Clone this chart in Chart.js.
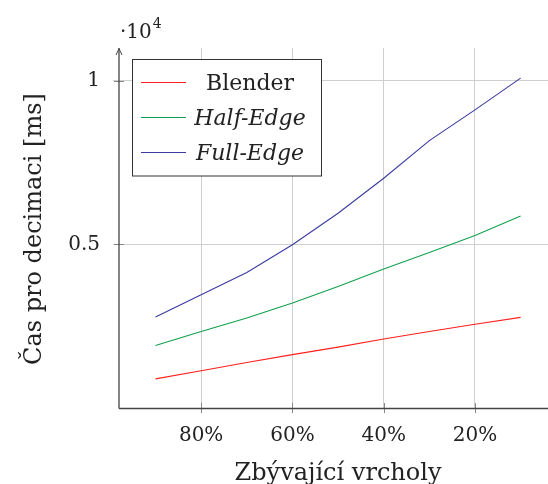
<!DOCTYPE html>
<html>
<head>
<meta charset="utf-8">
<script src="https://cdn.jsdelivr.net/npm/chart.js@4"></script>
<style>
html,body{margin:0;padding:0;background:#fff;}
canvas{display:block;}
</style>
</head>
<body>
<canvas id="c" width="548" height="484"></canvas>
<script>
// remaining vertices [%]
const categories = [90, 80, 70, 60, 50, 40, 30, 20, 10];
// time per decimation [ms]
const blender  = [890, 1140, 1390, 1630, 1860, 2110, 2340, 2560, 2770];
const halfEdge = [1910, 2340, 2750, 3210, 3710, 4250, 4750, 5270, 5870];
const fullEdge = [2780, 3460, 4140, 4990, 5950, 7020, 8170, 9110, 10080];
const seriesNames = ['Blender', 'Half-Edge', 'Full-Edge'];
const xTicks = [80, 60, 40, 20];
const yTicks = [5000, 10000];
const xTitle = 'Zbývající vrcholy';
const yTitle = 'Čas pro decimaci [ms]';

const FONT = '"DejaVu Serif", serif';
const colors = ['#ff1f1f', '#12a04e', '#3a3aa0'];
const italic = [false, true, true];

function pts(arr){ return categories.map((x,i)=>({x:x, y:arr[i]})); }

const overlay = {
  id: 'overlay',
  afterDraw(chart){
    const ctx = chart.ctx;
    const a = chart.chartArea;
    const xs = chart.scales.x, ys = chart.scales.y;
    ctx.save();
    // tick marks
    ctx.strokeStyle = '#888';
    ctx.lineWidth = 1;
    ctx.beginPath();
    xTicks.forEach(v=>{ const px = Math.round(xs.getPixelForValue(v))+0.5; ctx.moveTo(px, a.bottom-5); ctx.lineTo(px, a.bottom+5); });
    yTicks.forEach(v=>{ const py = Math.round(ys.getPixelForValue(v))+0.5; ctx.moveTo(a.left-5, py); ctx.lineTo(a.left+5, py); });
    ctx.stroke();
    // axes
    ctx.strokeStyle = '#444';
    ctx.lineWidth = 1.3;
    ctx.beginPath();
    ctx.moveTo(a.left, a.bottom+0.5);
    ctx.lineTo(a.left, a.top+1);
    ctx.moveTo(a.left, a.bottom+0.5);
    ctx.lineTo(548, a.bottom+0.5);
    ctx.stroke();
    // arrow head
    ctx.lineWidth = 1;
    ctx.beginPath();
    ctx.moveTo(a.left-3, a.top+7);
    ctx.quadraticCurveTo(a.left-0.5, a.top+2, a.left, a.top);
    ctx.quadraticCurveTo(a.left+0.5, a.top+2, a.left+3, a.top+7);
    ctx.stroke();

    // legend
    const bx = 132.5, by = 59.5, bw = 189, bh = 116.5;
    ctx.fillStyle = '#fff';
    ctx.fillRect(bx, by, bw, bh);
    ctx.strokeStyle = '#333';
    ctx.lineWidth = 1;
    ctx.strokeRect(bx, by, bw, bh);
    chart.data.datasets.forEach((ds, i)=>{
      const ry = 82 + i*35.2;
      ctx.strokeStyle = ds.borderColor;
      ctx.lineWidth = 1.2;
      ctx.beginPath();
      ctx.moveTo(141, Math.round(ry)+0.5);
      ctx.lineTo(186, Math.round(ry)+0.5);
      ctx.stroke();
      ctx.fillStyle = '#222';
      ctx.font = (italic[i] ? 'italic ' : '') + '22px ' + FONT;
      ctx.textAlign = 'center';
      ctx.textBaseline = 'alphabetic';
      ctx.fillText(ds.label, 250, ry + 8);
    });

    // multiplier
    ctx.fillStyle = '#222';
    ctx.textAlign = 'left';
    ctx.textBaseline = 'alphabetic';
    ctx.font = '20px ' + FONT;
    ctx.fillText('·10', 120, 37.5);
    const w = ctx.measureText('·10').width;
    ctx.font = '14px ' + FONT;
    ctx.fillText('4', 120 + w + 1, 28);

    // axis titles
    ctx.font = '24px ' + FONT;
    ctx.textAlign = 'center';
    ctx.fillText(xTitle, 338, 480);
    ctx.translate(41, 229);
    ctx.rotate(-Math.PI/2);
    ctx.fillText(yTitle, 0, 0);
    ctx.restore();
  }
};

new Chart(document.getElementById('c'), {
  type: 'line',
  data: {
    datasets: [
      { label: seriesNames[0], data: pts(blender),  borderColor: colors[0], borderWidth: 1.1, pointRadius: 0, fill: false, tension: 0 },
      { label: seriesNames[1], data: pts(halfEdge), borderColor: colors[1], borderWidth: 1.1, pointRadius: 0, fill: false, tension: 0 },
      { label: seriesNames[2], data: pts(fullEdge), borderColor: colors[2], borderWidth: 1.1, pointRadius: 0, fill: false, tension: 0 }
    ]
  },
  options: {
    responsive: false,
    animation: false,
    events: [],
    layout: { padding: { top: 48, left: 0, right: 0, bottom: 0 } },
    plugins: { legend: { display: false }, tooltip: { enabled: false }, title: { display: false } },
    scales: {
      x: {
        type: 'linear',
        reverse: true,
        min: 4, max: 98,
        afterBuildTicks: s => { s.ticks = xTicks.map(v => ({ value: v })); },
        afterFit: s => { s.height = 76; },
        ticks: { callback: v => v + '%', font: { family: FONT, size: 20 }, color: '#222', padding: 16, maxRotation: 0, autoSkip: false },
        grid: { color: '#cfcfcf', lineWidth: 1, tickLength: 0, drawTicks: false },
        border: { display: false }
      },
      y: {
        min: 0, max: 11000,
        afterBuildTicks: s => { s.ticks = yTicks.map(v => ({ value: v })); },
        afterFit: s => { s.width = 119; },
        ticks: { callback: v => String(v / 10000), font: { family: FONT, size: 20 }, color: '#222', padding: 13 },
        grid: { color: '#cfcfcf', lineWidth: 1, tickLength: 6, drawTicks: true, tickColor: '#cfcfcf' },
        border: { display: false }
      }
    }
  },
  plugins: [overlay]
});
</script>
</body>
</html>
